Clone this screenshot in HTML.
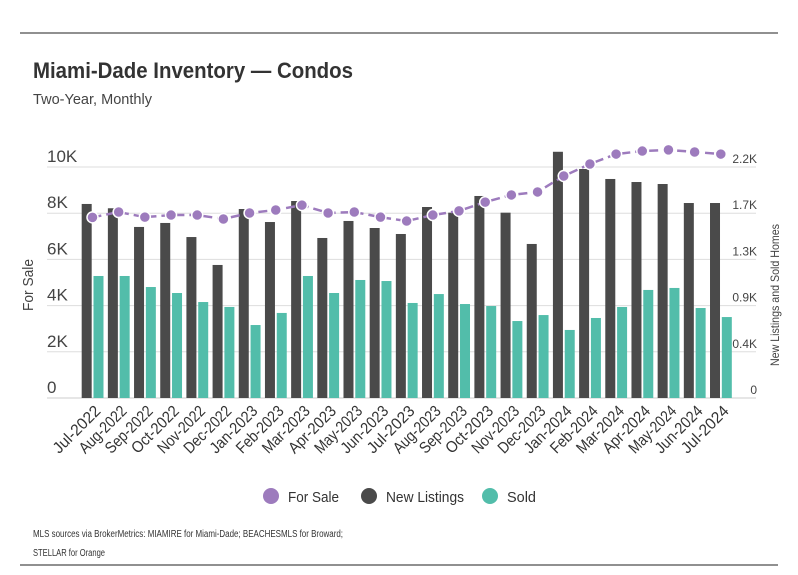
<!DOCTYPE html>
<html><head><meta charset="utf-8"><style>
body{margin:0;background:#fff;}
svg{display:block;font-family:"Liberation Sans Narrow","Liberation Sans",sans-serif;}
</style></head><body>
<svg id="c" width="798" height="575">
<line x1="20" y1="33" x2="778" y2="33" stroke="#222" stroke-width="1"/>
<text x="33" y="78" font-size="22" font-weight="bold" fill="#333" textLength="320" lengthAdjust="spacingAndGlyphs">Miami-Dade Inventory — Condos</text>
<text x="33" y="104" font-size="15" fill="#444" textLength="119" lengthAdjust="spacingAndGlyphs">Two-Year, Monthly</text>
<g id="grid"></g><g id="bars"></g><g id="line"></g><g id="xlabels"></g>
<text transform="translate(33,285) rotate(-90)" text-anchor="middle" font-size="15" fill="#444" textLength="52" lengthAdjust="spacingAndGlyphs">For Sale</text>
<text transform="translate(779,295) rotate(-90)" text-anchor="middle" font-size="12" fill="#444" textLength="142" lengthAdjust="spacingAndGlyphs">New Listings and Sold Homes</text>
<g>
<g><circle cx="271" cy="496" r="8" fill="#9d7bbd"/><text x="288" y="502" font-size="15" fill="#333" textLength="51" lengthAdjust="spacingAndGlyphs">For Sale</text></g>
<g><circle cx="369" cy="496" r="8" fill="#4a4a4a"/><text x="386" y="502" font-size="15" fill="#333" textLength="78" lengthAdjust="spacingAndGlyphs">New Listings</text></g>
<g><circle cx="490" cy="496" r="8" fill="#52bdaa"/><text x="507" y="502" font-size="15" fill="#333" textLength="29" lengthAdjust="spacingAndGlyphs">Sold</text></g>
</g>
<text x="33" y="537" font-size="10" fill="#333" textLength="310" lengthAdjust="spacingAndGlyphs">MLS sources via BrokerMetrics: MIAMIRE for Miami-Dade; BEACHESMLS for Broward;</text>
<text x="33" y="556" font-size="10" fill="#333" textLength="72" lengthAdjust="spacingAndGlyphs">STELLAR for Orange</text>
<line x1="20" y1="565" x2="778" y2="565" stroke="#222" stroke-width="1"/>
</svg>
<script>
const categories=["Jul-2022","Aug-2022","Sep-2022","Oct-2022","Nov-2022","Dec-2022","Jan-2023","Feb-2023","Mar-2023","Apr-2023","May-2023","Jun-2023","Jul-2023","Aug-2023","Sep-2023","Oct-2023","Nov-2023","Dec-2023","Jan-2024","Feb-2024","Mar-2024","Apr-2024","May-2024","Jun-2024","Jul-2024"];
const forSale=[7820,8050,7830,7920,7920,7750,8010,8140,8350,8010,8050,7830,7660,7920,8100,8480,8790,8920,9610,10130,10560,10690,10740,10650,10560];
const newListings=[1848,1807,1629,1667,1533,1267,1800,1676,1876,1524,1686,1619,1562,1819,1765,1924,1765,1467,2345,2181,2086,2057,2038,1857,1857];
const sold=[1162,1162,1057,1000,914,867,695,810,1162,1000,1124,1114,905,990,895,876,733,790,648,762,867,1029,1048,857,771];
const leftTicks=["0","2K","4K","6K","8K","10K"];
const rightTicks=["0","0.4K","0.9K","1.3K","1.7K","2.2K"];
const NS="http://www.w3.org/2000/svg";
const baseY=398,topY=167,x0=79.4,band=26.18;
const yL=v=>baseY-v/10000*(baseY-topY);
const yR=v=>baseY-v/2200*(baseY-topY);
const xc=i=>x0+band*(i+0.5);
function mk(tag,attrs,parent){const e=document.createElementNS(NS,tag);for(const k in attrs)e.setAttribute(k,attrs[k]);document.getElementById(parent).appendChild(e);return e;}
leftTicks.forEach((t,i)=>{
 const y=baseY-i*(baseY-topY)/5;
 const g=mk("line",{x1:47,x2:756,y1:y,y2:y,stroke:i===0?"#ccc":"#ddd","stroke-width":1},"grid");
 
 
 const l=mk("text",{x:47,y:y-5,"font-size":17,fill:"#444"},"grid");l.textContent=t;
 
 
 const r=mk("text",{x:757,y:y-4,"font-size":12,fill:"#444","text-anchor":"end"},"grid");r.textContent=rightTicks[i];
 
 
});
categories.forEach((c,i)=>{
 const cx=xc(i);
 const b=mk("rect",{x:cx-10.8,y:yR(newListings[i]),width:10,height:baseY-yR(newListings[i]),fill:"#4a4a4a"},"bars");
 
 
 const s=mk("rect",{x:cx+1,y:yR(sold[i]),width:10,height:baseY-yR(sold[i]),fill:"#52bdaa"},"bars");
 
 
 const t=mk("text",{transform:`translate(${cx+9},${baseY+14}) rotate(-45)`,"text-anchor":"end","font-size":16,fill:"#333",textLength:60,lengthAdjust:"spacingAndGlyphs"},"xlabels");t.textContent=c;
 
 
});
const pts=forSale.map((v,i)=>xc(i)+","+yL(v)).join(" ");
const pl=mk("polyline",{points:pts,fill:"none",stroke:"#9d7bbd","stroke-width":2.5,"stroke-dasharray":"9,5"},"line");


forSale.forEach((v,i)=>{
 const p=mk("circle",{cx:xc(i),cy:yL(v),r:5.5,fill:"#9d7bbd",stroke:"#fff","stroke-width":1.5},"line");
 
 
});
</script>
</body></html>
